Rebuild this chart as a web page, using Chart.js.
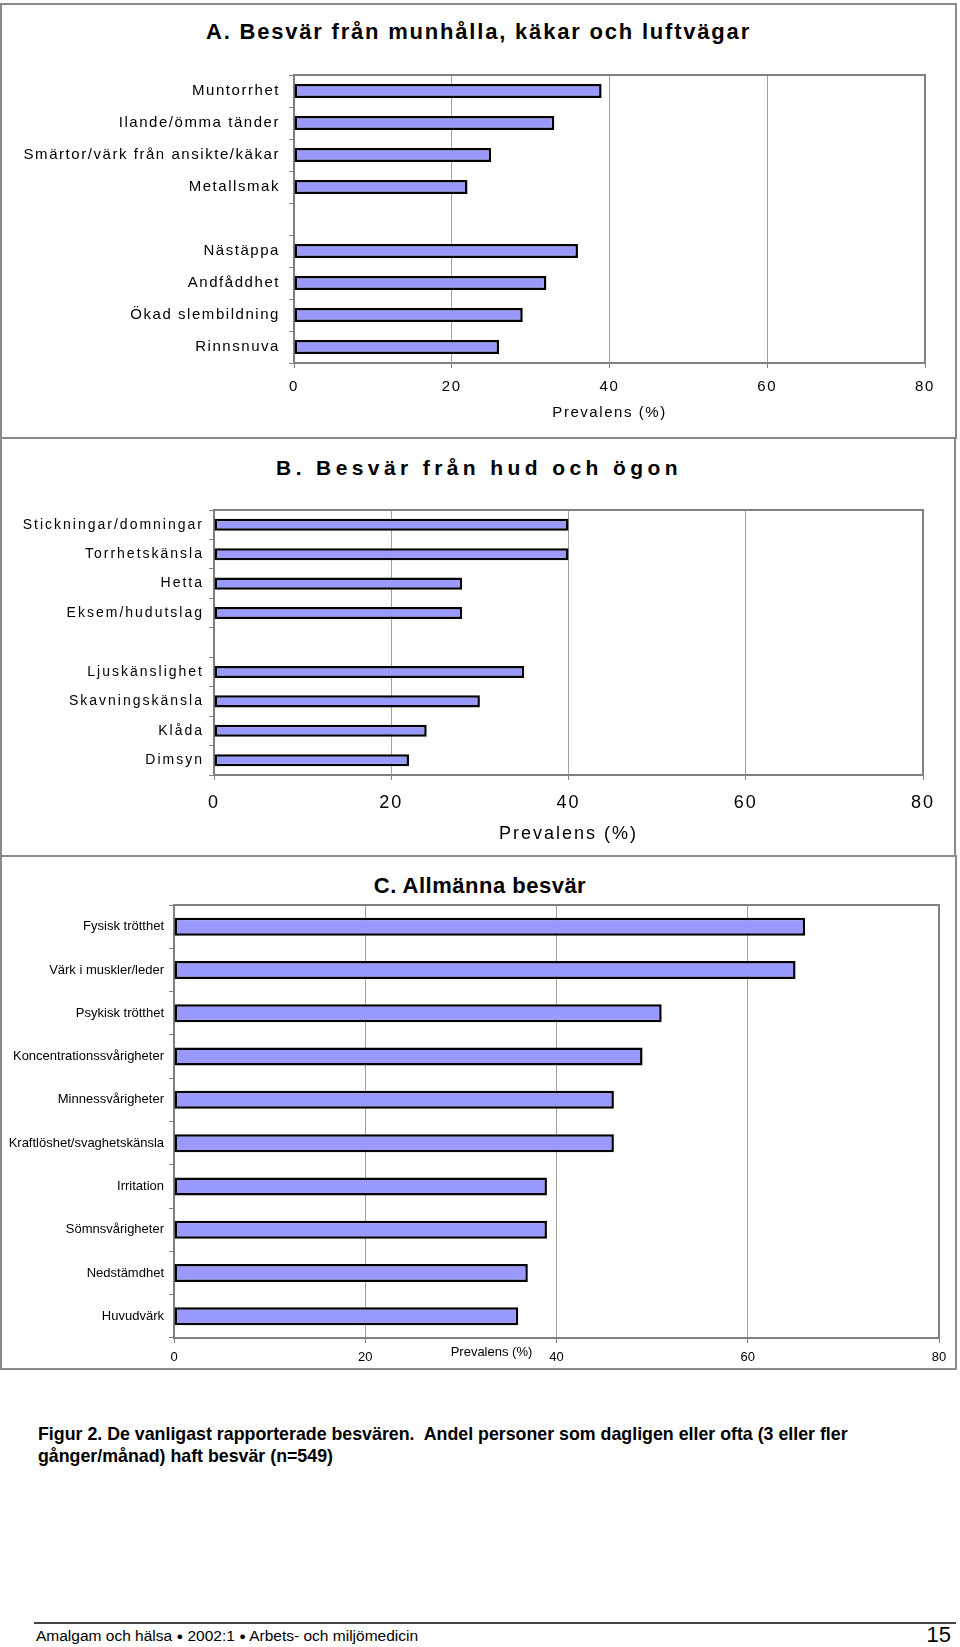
<!DOCTYPE html>
<html><head><meta charset="utf-8">
<script src="https://cdn.jsdelivr.net/npm/chart.js@4/dist/chart.umd.min.js"></script>
<style>
html,body{margin:0;padding:0;background:#fff;}
body{width:960px;height:1647px;position:relative;overflow:hidden;font-family:'Liberation Sans',Arial,sans-serif;color:#000;}
.frame{position:absolute;box-sizing:border-box;border:2px solid #8a8a8a;}
.ttl{position:absolute;text-align:center;font-weight:bold;white-space:nowrap;}
canvas{position:absolute;left:0;}
.cap{position:absolute;left:38px;top:1424px;font-size:17.8px;line-height:21.6px;font-weight:bold;white-space:pre;}
.foot{position:absolute;left:36px;top:1628px;font-size:15.5px;line-height:15px;white-space:pre;}
.foot .dot{font-size:11px;vertical-align:1px;}
.pno{position:absolute;right:9px;top:1624px;font-size:22px;line-height:22px;}
.fline{position:absolute;left:34px;top:1622px;width:922px;height:2px;background:#444;}
</style></head><body>
<div class="frame" style="left:0;top:3px;width:957px;height:436px"></div>
<div class="frame" style="left:0;top:437px;width:956px;height:420px"></div>
<div class="frame" style="left:0;top:855px;width:957px;height:515px"></div>

<div class="ttl" style="left:0;width:957px;top:21px;font-size:22px;line-height:22px;letter-spacing:1.8px">A. Besvär från munhålla, käkar och luftvägar</div>
<div class="ttl" style="left:0;width:958px;top:457px;font-size:21px;line-height:21px;letter-spacing:4.4px">B. Besvär från hud och ögon</div>
<div class="ttl" style="left:0;width:960px;top:875px;font-size:22px;line-height:22px;letter-spacing:0.5px">C. Allmänna besvär</div>

<canvas id="cA" width="960" height="440" style="top:0"></canvas>
<canvas id="cB" width="960" height="416" style="top:440px"></canvas>
<canvas id="cC" width="960" height="510" style="top:858px"></canvas>

<div class="cap">Figur 2. De vanligast rapporterade besvären.  Andel personer som dagligen eller ofta (3 eller fler
gånger/månad) haft besvär (n=549)</div>
<div class="fline"></div>
<div class="foot">Amalgam och hälsa <span class="dot">●</span> 2002:1 <span class="dot">●</span> Arbets- och miljömedicin</div>
<div class="pno">15</div>

<script>
// ---- data ----
const catsA = ['Muntorrhet','Ilande/ömma tänder','Smärtor/värk från ansikte/käkar','Metallsmak','','Nästäppa','Andfåddhet','Ökad slembildning','Rinnsnuva'];
const valsA = [39, 33, 25, 22, null, 36, 32, 29, 26];

const catsB = ['Stickningar/domningar','Torrhetskänsla','Hetta','Eksem/hudutslag','','Ljuskänslighet','Skavningskänsla','Klåda','Dimsyn'];
const valsB = [40, 40, 28, 28, null, 35, 30, 24, 22];

const catsC = ['Fysisk trötthet','Värk i muskler/leder','Psykisk trötthet','Koncentrationssvårigheter','Minnessvårigheter','Kraftlöshet/svaghetskänsla','Irritation','Sömnsvårigheter','Nedstämdhet','Huvudvärk'];
const valsC = [66, 65, 51, 49, 46, 46, 39, 39, 37, 36];

const xTicks = [0, 20, 40, 60, 80];
const xTitle = 'Prevalens (%)';

// ---- plugins ----
const FONT = "'Liberation Sans', Arial, sans-serif";
const spacing = {
  id: 'spacing',
  beforeUpdate(c, a, o) { c.ctx.letterSpacing = (o.px || 0) + 'px'; },
  beforeLayout(c, a, o) { c.ctx.letterSpacing = (o.px || 0) + 'px'; },
  beforeDraw(c, a, o) { c.ctx.letterSpacing = (o.px || 0) + 'px'; }
};
const plotFrame = {
  id: 'plotFrame',
  beforeDatasetsDraw(chart, args, o) {
    const {ctx, chartArea: a} = chart;
    ctx.save();
    ctx.strokeStyle = o.color || '#808080';
    ctx.lineWidth = o.width || 2;
    ctx.beginPath();
    ctx.moveTo(a.left, a.top); ctx.lineTo(a.right, a.top); ctx.lineTo(a.right, a.bottom);
    ctx.stroke();
    ctx.restore();
  }
};
const freeTitle = {
  id: 'freeTitle',
  afterDraw(chart, args, o) {
    if (!o.text) return;
    const {ctx, chartArea: a} = chart;
    ctx.save();
    ctx.font = o.font; ctx.fillStyle = '#000';
    ctx.textAlign = 'center'; ctx.textBaseline = 'middle';
    ctx.fillText(o.text, a.left + o.xFrac * (a.right - a.left), a.bottom + o.dy);
    ctx.restore();
  }
};

function makeChart(id, cats, vals, cfg) {
  return new Chart(document.getElementById(id), {
    type: 'bar',
    data: {
      labels: cats,
      datasets: [{
        data: vals,
        backgroundColor: '#9999ff',
        borderColor: '#000000',
        borderWidth: 2.5,
        borderSkipped: false,
        barPercentage: cfg.barPct,
        categoryPercentage: 1
      }]
    },
    options: {
      indexAxis: 'y',
      responsive: false,
      animation: false,
      devicePixelRatio: 1,
      layout: { padding: { left: 0, top: cfg.top, right: cfg.right, bottom: 0 } },
      plugins: {
        legend: { display: false },
        tooltip: { enabled: false },
        title: { display: false },
        spacing: { px: cfg.ls },
        plotFrame: { color: '#808080', width: 2 },
        freeTitle: cfg.freeTitle || {}
      },
      scales: {
        x: {
          min: 0, max: 80,
          afterBuildTicks: s => { s.ticks = xTicks.map(v => ({ value: v })); },
          ticks: { color: '#000', font: { family: FONT, size: cfg.tickSize }, padding: cfg.tickPad, maxRotation: 0 },
          grid: { color: '#a0a0a0', lineWidth: 1, tickLength: 5, drawTicks: true, tickColor: '#808080' },
          border: { color: '#808080', width: 2 },
          title: {
            display: !!cfg.axisTitle, text: xTitle, color: '#000',
            font: { family: FONT, size: cfg.axisTitleSize },
            padding: { top: 0, bottom: cfg.axisTitlePadB || 0 }
          },
          afterFit: s => { s.height = cfg.xH; }
        },
        y: {
          ticks: { color: '#000', font: { family: FONT, size: cfg.labelSize }, padding: cfg.labelPad, autoSkip: false },
          grid: { drawOnChartArea: false, drawTicks: true, tickLength: 5, color: '#808080', offset: true },
          border: { color: '#808080', width: 2 },
          afterFit: s => { s.width = cfg.yW; }
        }
      }
    },
    plugins: [spacing, plotFrame, freeTitle]
  });
}

makeChart('cA', catsA, valsA, {
  barPct: 0.44, top: 75, right: 35, ls: 1.55,
  tickSize: 15, tickPad: 10, labelSize: 15, labelPad: 9,
  axisTitle: true, axisTitleSize: 15, axisTitlePadB: 18,
  xH: 77, yW: 294
});
makeChart('cB', catsB, valsB, {
  barPct: 0.41, top: 70, right: 37, ls: 2,
  tickSize: 18, tickPad: 12, labelSize: 14, labelPad: 5,
  axisTitle: true, axisTitleSize: 18, axisTitlePadB: 11,
  xH: 81, yW: 214
});
makeChart('cC', catsC, valsC, {
  barPct: 0.415, top: 47, right: 21, ls: 0,
  tickSize: 13, tickPad: 7, labelSize: 13, labelPad: 5,
  axisTitle: false,
  freeTitle: { text: xTitle, font: "13px " + FONT, xFrac: 0.415, dy: 14 },
  xH: 30, yW: 174
});
</script>
</body></html>
